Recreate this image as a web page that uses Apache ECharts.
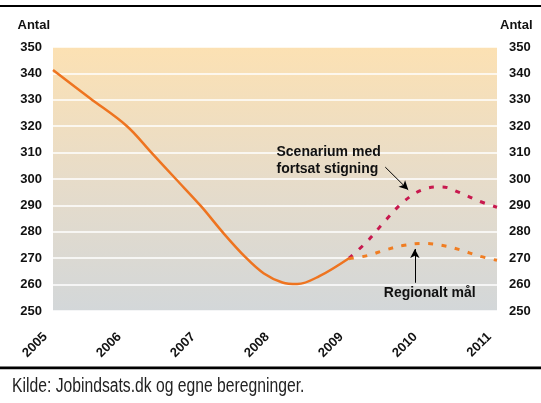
<!DOCTYPE html>
<html>
<head>
<meta charset="utf-8">
<script src="https://cdn.jsdelivr.net/npm/echarts@6/dist/echarts.min.js"></script>
<style>
html,body{margin:0;padding:0;background:#fff;}
#c{width:541px;height:403px;}
</style>
</head>
<body>
<div id="c"></div>
<script>
// ---- data ----
const xTicks = [2005, 2006, 2007, 2008, 2009, 2010, 2011];
const yMin = 250, yMax = 350, yStep = 10;
const actual = [[2005, 341.3], [2005.5, 330.6], [2006, 320], [2006.33, 310], [2006.66, 300], [2007, 289.7], [2007.3, 279.6], [2007.6, 270.4], [2007.85, 264.2], [2008.1, 260.8], [2008.3, 260.2], [2008.6, 263.2], [2009, 270]];
const scenario = [[2009, 270], [2009.25, 276.5], [2009.5, 284.5], [2009.75, 291.7], [2010, 296], [2010.25, 297], [2010.5, 294.8], [2010.75, 291.7], [2011, 289.3]];
const goal = [[2009, 269.8], [2009.25, 271], [2009.5, 273.2], [2009.75, 274.9], [2010, 275.6], [2010.25, 274.9], [2010.5, 273.2], [2010.75, 270.9], [2011, 269.2]];
const scenarioLabel = 'Scenarium med\nfortsat stigning';
const goalLabel = 'Regionalt mål';
const sourceText = 'Kilde: Jobindsats.dk og egne beregninger.';
const axisName = 'Antal';
// annotation anchors (data coordinates)
const scenarioTextAt = [2008.02, 310];
const scenarioArrow = [[2009.49, 304.5], [2009.80, 295.9]];
const goalTextAt = [2009.47, 256.6];
const goalArrow = [[2009.89, 260.7], [2009.89, 273.5]];

const chart = echarts.init(document.getElementById('c'), null, {renderer: 'canvas'});
const boldFont = 'Liberation Sans, Arial, sans-serif';

const yAxisCommon = {
  type: 'value', min: yMin, max: yMax, interval: yStep,
  name: axisName,
  nameLocation: 'end',
  nameGap: 15,
  axisLine: {show: false}, axisTick: {show: false},
  splitLine: {show: true, lineStyle: {color: '#ffffff', width: 1.5}},
  axisLabel: {color: '#111', fontWeight: 'bold', fontSize: 13, fontFamily: boldFont}
};

chart.setOption({
  animation: false,
  grid: {
    left: 53, right: 44, top: 47, bottom: 92, show: true, borderWidth: 0,
    backgroundColor: new echarts.graphic.LinearGradient(0, 0, 0, 1, [
      {offset: 0, color: '#FCE1B3'},
      {offset: 0.5, color: '#E7DCC9'},
      {offset: 1, color: '#D3D7D9'}
    ])
  },
  xAxis: {
    type: 'value', min: xTicks[0], max: xTicks[xTicks.length - 1], interval: 1,
    axisLine: {show: false}, axisTick: {show: false}, splitLine: {show: false},
    axisLabel: {rotate: 45, margin: 16, padding: [0, 11, 0, 0], color: '#111', fontWeight: 'bold', fontSize: 13, fontFamily: boldFont,
      formatter: v => String(v)}
  },
  yAxis: [
    Object.assign({}, yAxisCommon, {position: 'left',
      axisLabel: Object.assign({}, yAxisCommon.axisLabel, {margin: 11}),
      nameTextStyle: {color: '#111', fontWeight: 'bold', fontSize: 13, fontFamily: boldFont, align: 'right', padding: [0, 3, 0, 0]}}),
    Object.assign({}, yAxisCommon, {position: 'right',
      splitLine: {show: false},
      axisLabel: Object.assign({}, yAxisCommon.axisLabel, {margin: 12}),
      nameTextStyle: {color: '#111', fontWeight: 'bold', fontSize: 13, fontFamily: boldFont, align: 'left', padding: [0, 0, 0, 3]}})
  ],
  series: [
    {type: 'line', data: actual, smooth: 0.35, symbol: 'none',
      lineStyle: {color: '#EE7420', width: 2.5}},
    {type: 'line', data: scenario, smooth: 0.4, symbol: 'none',
      lineStyle: {color: '#C8184E', width: 3, type: [5, 8.5]},
      markLine: {silent: true, symbol: ['none', 'arrow'], symbolSize: [7, 9], label: {show: false},
        lineStyle: {color: '#000', width: 1, type: 'solid'},
        data: [[{coord: scenarioArrow[0]}, {coord: scenarioArrow[1]}], [{coord: goalArrow[0]}, {coord: goalArrow[1]}]]}},
    {type: 'line', data: goal, smooth: 0.4, symbol: 'none',
      lineStyle: {color: '#F07D22', width: 3, type: [5, 8.5]}}
  ]
});

const p1 = chart.convertToPixel({gridIndex: 0}, scenarioTextAt);
const p2 = chart.convertToPixel({gridIndex: 0}, goalTextAt);
chart.setOption({
  graphic: [
    {type: 'rect', shape: {x: 0, y: 5, width: 541, height: 2}, style: {fill: '#000'}},
    {type: 'rect', shape: {x: 0, y: 366.5, width: 541, height: 2.7}, style: {fill: '#000'}},
    {type: 'text', x: p1[0], y: p1[1] - 8.3, style: {text: scenarioLabel, fill: '#111', font: 'bold 14px ' + boldFont, lineHeight: 16.6, verticalAlign: 'top', align: 'left'}},
    {type: 'text', x: p2[0], y: p2[1], style: {text: goalLabel, fill: '#111', font: 'bold 14px ' + boldFont, verticalAlign: 'middle', align: 'left'}},
    {type: 'text', x: 12, y: 386.5, scaleX: 0.785, style: {text: sourceText, fill: '#222', font: '20px "Liberation Sans", Arial, sans-serif', verticalAlign: 'middle', align: 'left'}}
  ]
});
</script>
</body>
</html>
